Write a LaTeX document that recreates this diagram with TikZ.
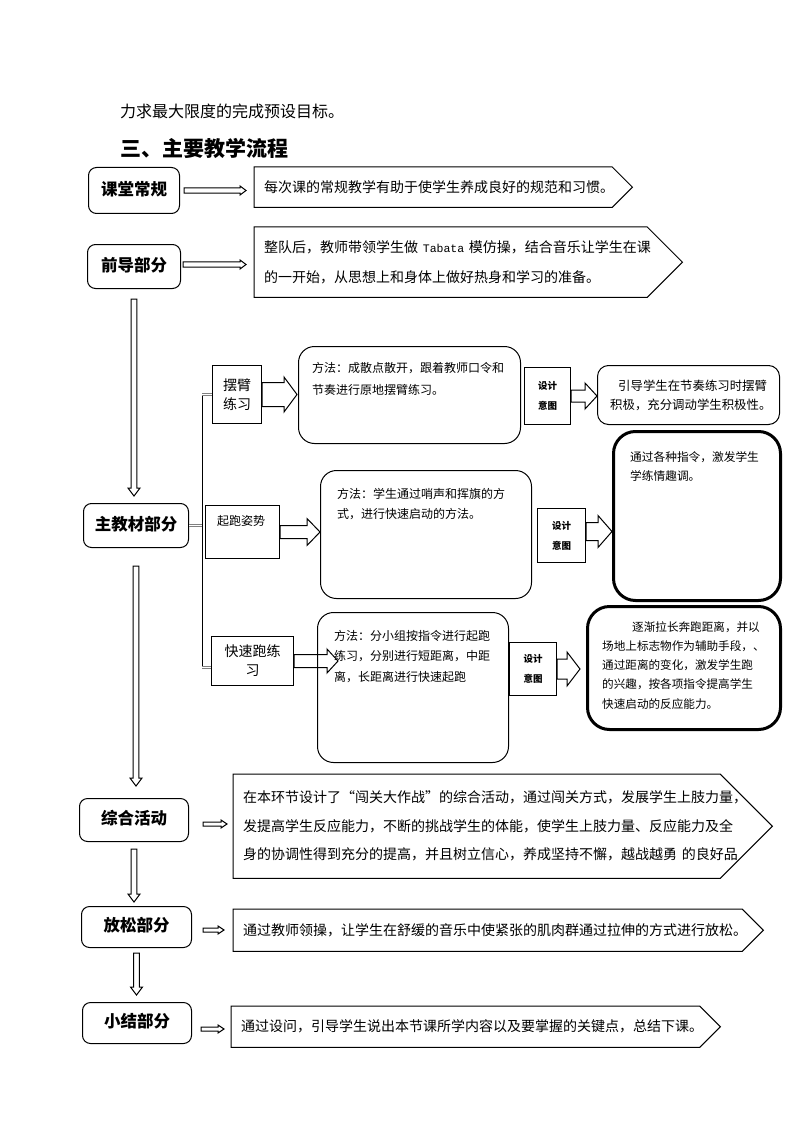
\documentclass[tikz,border=0pt]{standalone}
\usepackage{fontspec}
\setmainfont{Noto Sans CJK SC}
\newfontfamily\monofont{Liberation Mono}
\usetikzlibrary{calc}

% outline of an arrow-shaped text box
\newcommand\pentaoutline[1]{%
  \draw[line width=1pt] let \p1=(#1.north east), \p2=(#1.east) in
    (#1.north west) -- (\x1-\y1+\y2,\y1) -- (#1.east)
    -- (\x1-\y1+\y2,2*\y2-\y1) -- (#1.south west) -- cycle;}

\begin{document}
\begin{tikzpicture}[x=1pt, y=-1pt,
    stage/.style={draw, line width=1pt, rounded corners=8pt, inner sep=0pt,
      anchor=north west, text depth=0.45em, font=\fontsize{16.5}{20}\selectfont\bfseries},
    penta/.style={inner xsep=10pt, inner ysep=0pt, align=left, anchor=north west,
      font=\fontsize{14}{30}\selectfont},
    item/.style={draw, line width=1pt, inner sep=0pt, anchor=north west, align=center,
      font=\fontsize{14}{19}\selectfont},
    method/.style={draw, line width=1pt, rounded corners=16pt, inner sep=0pt, anchor=north west},
    aim/.style={draw, line width=1pt, inner sep=0pt, anchor=north west, align=center,
      font=\fontsize{9.5}{20}\selectfont\bfseries},
    effect/.style={draw, line width=3pt, rounded corners=22pt, inner sep=0pt, anchor=north west},
    words/.style={inner sep=0pt, anchor=north west, align=left},
    stub/.style={draw=gray, line width=0.6pt, double, double distance=1.2pt},
    hollow/.style n args={3}{line width=1pt, to path={let \p1=(\tikztostart), \p2=(\tikztotarget) in
      (\x1,\y1+#1) -- (\x2-#3,\y1+#1) -- (\x2-#3,\y1+#2) -- (\x2,\y1)
      -- (\x2-#3,\y1-#2) -- (\x2-#3,\y1-#1) -- (\x1,\y1-#1) -- cycle}},
    hollowdown/.style n args={3}{line width=1pt, to path={let \p1=(\tikztostart), \p2=(\tikztotarget) in
      (\x1-#1,\y1) -- (\x1-#1,\y2+#3) -- (\x1-#2,\y2+#3) -- (\x1,\y2)
      -- (\x1+#2,\y2+#3) -- (\x1+#1,\y2+#3) -- (\x1+#1,\y1) -- cycle}}]
\path[use as bounding box, fill=white] (0,0) rectangle (794,1123);

% heading
\node[anchor=west, inner sep=0pt, font=\fontsize{16}{16}\selectfont] (intro) at (120,111) {力求最大限度的完成预设目标。};
\node[anchor=west, inner sep=0pt, font=\fontsize{21}{21}\selectfont\bfseries] (title) at (120,148) {三、主要教学流程};

% stages
\node[stage, minimum width=91, minimum height=46] (k1) at (88,167) {课堂常规};
\node[stage, minimum width=93, minimum height=44] (k2) at (87,244) {前导部分};
\node[stage, minimum width=105, minimum height=44] (k3) at (83,503) {主教材部分};
\node[stage, minimum width=109, minimum height=43] (k4) at (79,798) {综合活动};
\node[stage, minimum width=110, minimum height=41] (k5) at (81,906) {放松部分};
\node[stage, minimum width=109, minimum height=41] (k6) at (82,1002) {小结部分};

% stage texts
\node[penta, text width=358pt, minimum height=40] (p1) at (254,167) {每次课的常规教学有助于使学生养成良好的规范和习惯。};
\node[penta, text width=408pt, minimum height=70] (p2) at (254,227) {整队后，教师带领学生做 {\monofont\fontsize{11.5}{30}\selectfont Tabata} 模仿操，结合音乐让学生在课\\的一开始，从思想上和身体上做好热身和学习的准备。};
\node[penta, text width=519pt, minimum height=104, font=\fontsize{14}{28.5}\selectfont] (p3) at (233,774) {在本环节设计了“闯关大作战”的综合活动，通过闯关方式，发展学生上肢力量，\\发提高学生反应能力，不断的挑战学生的体能，使学生上肢力量、反应能力及全\\身的协调性得到充分的提高，并且树立信心，养成坚持不懈，越战越勇 的良好品};
\node[penta, text width=510pt, minimum height=42] (p4) at (233,909) {通过教师领操，让学生在舒缓的音乐中使紧张的肌肉群通过拉伸的方式进行放松。};
\node[penta, text width=469pt, minimum height=41] (p5) at (231,1006) {通过设问，引导学生说出本节课所学内容以及要掌握的关键点，总结下课。};
\foreach \pn in {p1,p2,p3,p4,p5} {\pentaoutline{\pn}}

% exercises
\node[item, minimum width=49, minimum height=58] (arm) at (212,365) {摆臂\\练习};
\node[item, minimum width=74, minimum height=53] (start) at (205,505) {};
\node[words, font=\fontsize{12}{12}\selectfont] (startt) at (217,515) {起跑姿势};
\node[item, minimum width=82, minimum height=49] (fast) at (211,636) {快速跑练\\习};

\node[method, minimum width=222, minimum height=97] (m1) at (298,346) {};
\node[words, font=\fontsize{12}{22}\selectfont] (m1t) at (312,362) {方法：成散点散开，跟着教师口令和\\节奏进行原地摆臂练习。};
\node[method, minimum width=211, minimum height=128] (m2) at (320,470) {};
\node[words, font=\fontsize{12}{20}\selectfont] (m2t) at (337,488) {方法：学生通过哨声和挥旗的方\\式，进行快速启动的方法。};
\node[method, minimum width=191, minimum height=150] (m3) at (317,612) {};
\node[words, font=\fontsize{12}{20.5}\selectfont] (m3t) at (334,630) {方法：分小组按指令进行起跑\\练习，分别进行短距离，中距\\离，长距离进行快速起跑};

\node[aim, minimum width=46, minimum height=57] (d1l) at (524,367) {设计\\意图};
\node[aim, minimum width=48, minimum height=54] (d2l) at (537,508) {设计\\意图};
\node[aim, minimum width=47, minimum height=53] (d3l) at (509,642) {设计\\意图};

\node[method, rounded corners=11pt, minimum width=182, minimum height=59] (d1) at (597,365) {};
\node[words, font=\fontsize{12.4}{19}\selectfont] (d1t) at (610,380) {\hspace*{8pt}引导学生在节奏练习时摆臂\\积极，充分调动学生积极性。};
\node[effect, minimum width=167, minimum height=169] (d2) at (612,430) {};
\node[words, font=\fontsize{11.7}{19}\selectfont] (d2t) at (630,451) {通过各种指令，激发学生\\学练情趣调。};
\node[effect, minimum width=193, minimum height=123] (d3) at (586,605) {};
\node[words, font=\fontsize{11.6}{19.3}\selectfont] (d3t) at (602,621) {\hspace*{30pt}逐渐拉长奔跑距离，并以\\场地上标志物作为辅助手段，、\\通过距离的变化，激发学生跑\\的兴趣，按各项指令提高学生\\快速启动的反应能力。};

% bracket
\coordinate (brk) at (202,0);
\coordinate (fastin) at ([yshift=-6.5]fast.west);
\draw[line width=0.8pt] (arm.west -| brk) -- (fastin -| brk);
\draw[stub] (arm.west -| brk) -- (arm.west);
\draw[stub] (fastin -| brk) -- (fastin);
\draw[stub] (k3.east) -- (k3.east -| brk);

% arrows
\draw[hollow={2.7}{4.5}{6}] ([xshift=4]k1.east) to ([xshift=-8]p1.west);
\draw[hollow={2.7}{4.5}{6}] ([xshift=2,yshift=2]k2.east) to ([xshift=-8]p2.west);
\draw[hollowdown={2.8}{6}{8}] ([yshift=-10]k2.south) to ([yshift=7]k3.north);
\draw[hollowdown={2.8}{6}{8}] ([yshift=-18]k3.south) to ([yshift=12]k4.north);
\draw[hollowdown={2.8}{6}{8}] ([yshift=-7]k4.south) to ([yshift=4]k5.north);
\draw[hollowdown={2.8}{6}{8}] ([yshift=-5]k5.south) to ([yshift=7]k6.north);
\draw[hollow={2}{4}{6}] ([xshift=14,yshift=-4]k4.east) to ([xshift=-6]p3.west);
\draw[hollow={2}{4}{6}] ([xshift=11,yshift=-3]k5.east) to ([xshift=-9]p4.west);
\draw[hollow={2}{4}{6}] ([xshift=9,yshift=-6]k6.east) to ([xshift=-7]p5.west);

\draw[hollow={12}{17.5}{13}] (arm.east) to ([xshift=-1]m1.west);
\draw[hollow={6.5}{13.5}{13}] (start.east) to (m2.west);
\draw[hollow={6.5}{12}{11}] (fast.east) to ([xshift=21]m3.west);
\draw[hollow={6}{13}{12}] (d1l.east) to (d1.west);
\draw[hollow={9}{16}{14}] ([yshift=4]d2l.east) to (d2.west);
\draw[hollow={10}{17}{13}] (d3l.east) to ([xshift=-6]d3.west);
\end{tikzpicture}
\end{document}
